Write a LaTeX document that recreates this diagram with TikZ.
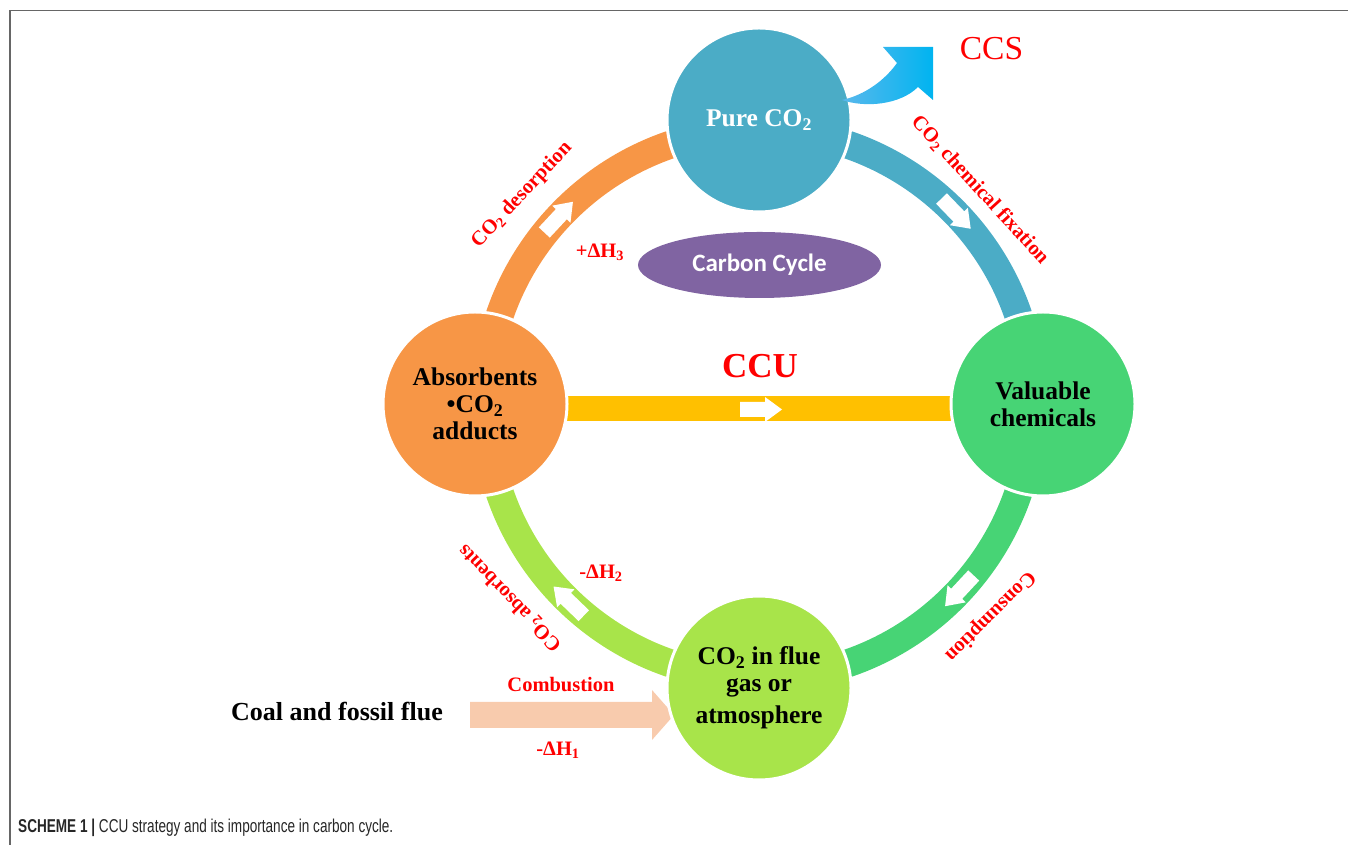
\documentclass[tikz,border=0pt]{standalone}
\usepackage{fontspec}
\setmainfont{Liberation Serif}
\newfontfamily\calibrifont{Carlito}
\newfontfamily\captionfont[FakeStretch=0.73]{Liberation Sans}
\usetikzlibrary{calc,shapes.geometric}
\definecolor{aqua}{HTML}{4BACC6}
\definecolor{absorborange}{HTML}{F79646}
\definecolor{chemgreen}{HTML}{47D475}
\definecolor{fluegreen}{HTML}{A8E44A}
\definecolor{ccugold}{HTML}{FFC000}
\definecolor{cyclepurple}{HTML}{8064A2}
\definecolor{peach}{HTML}{F8CBAD}
\definecolor{framegray}{HTML}{666666}
\definecolor{ccslight}{HTML}{5AB8EC}
\definecolor{ccsblue}{HTML}{0A5AC0}
\definecolor{ccscyan}{HTML}{00B4F0}
\tikzset{
  stage/.style={circle, minimum size=184pt, inner sep=0pt, draw=white, line width=3pt,
    align=center, font=\bfseries\fontsize{25.5}{27}\selectfont},
  tag/.style={text=red, font=\bfseries\fontsize{20.5}{22}\selectfont},
  band/.style={line width=28pt},
}
% white flow arrow sitting on the ring
\newcommand{\flowmark}[1]{%
  \fill[white, shift={($(O)+(#1:274)$)}, rotate=#1-90]
    (-21,-7.5) -- (4,-7.5) -- (4,-12.5) -- (21,0) -- (4,12.5) -- (4,7.5) -- (-21,7.5) -- cycle;}
\begin{document}
\begin{tikzpicture}[x=1pt,y=1pt]
\useasboundingbox (0,0) rectangle (1348,845);
\draw[framegray, line width=1.5pt] (10,0) -- (10,834.5) -- (1348,834.5);
\coordinate (O) at (759,441);
% ring
\draw[band, absorborange] (O) ++(180:274) arc[start angle=180, end angle=90, radius=274];
\draw[band, aqua] (O) ++(90:274) arc[start angle=90, end angle=0, radius=274];
\draw[band, chemgreen] (O) ++(0:274) arc[start angle=0, end angle=-90, radius=274];
\draw[band, fluegreen] (O) ++(-90:274) arc[start angle=-90, end angle=-180, radius=274];
\flowmark{137}
\flowmark{44}
\flowmark{-43}
\flowmark{226}
% stages
\coordinate (absorbpos) at ($(O)+(180:284)$);
\coordinate (chempos) at ($(O)+(0:284)$);
\draw[ccugold, line width=25pt] ([yshift=-4.5]absorbpos) -- ([yshift=-4.5]chempos);
\fill[white] (740,428) -- (765,428) -- (765,423) -- (782,435.5) -- (765,448) -- (765,443) -- (740,443) -- cycle;
\fill[peach] (470,117) -- (652,117) -- (652,105) -- (674,130) -- (652,155) -- (652,143) -- (470,143) -- cycle;
\node[stage, fill=aqua, text=white] (pure) at ($(O)+(90:284)$) {Pure CO\textsubscript{2}};
\node[stage, fill=absorborange] (absorb) at (absorbpos) {Absorbents\\•CO\textsubscript{2}\\adducts};
\node[stage, fill=chemgreen] (valuable) at (chempos) {Valuable\\chemicals};
\node[stage, fill=fluegreen] (flue) at ($(O)+(-90:284)$) {CO\textsubscript{2} in flue\\gas or\\[5pt]atmosphere};
\shade[left color=ccslight, middle color=ccsblue, right color=ccscyan]
  (842,745) .. controls (865,750) and (885,765) .. (897,782) -- (883,798) -- (933,798)
  -- (933,745) -- (918,758) .. controls (900,740) and (865,737) .. (842,745);
\node[ellipse, fill=cyclepurple, minimum width=243pt, minimum height=66pt, inner sep=0pt,
  text=white, font=\calibrifont\bfseries\fontsize{25}{26}\selectfont] (cycle) at (759.5,580) {Carbon Cycle};
% labels
\node[text=red, font=\bfseries\fontsize{35}{36}\selectfont] (ccu) at (760,479) {CCU};
\node[text=red, font=\fontsize{33.5}{35}\selectfont] (ccs) at (991.5,796.5) {CCS};
\node[tag, rotate=47] (desorb) at (522,650) {CO\textsubscript{2} desorption};
\node[tag, rotate=-47.5] (fixation) at (980,655) {CO\textsubscript{2} chemical fixation};
\node[tag, rotate=225] (consume) at (990,229) {Consumption};
\node[tag, rotate=134] (absorbtag) at (510,247) {CO\textsubscript{2} absorbents};
\node[tag] (dh3) at (600,593) {+ΔH\textsubscript{3}};
\node[tag] (dh2) at (601,272) {-ΔH\textsubscript{2}};
\node[tag] (combust) at (561,160) {Combustion};
\node[tag] (dh1) at (558,95) {-ΔH\textsubscript{1}};
\node[font=\bfseries\fontsize{26}{28}\selectfont] (coal) at (337,133) {Coal and fossil flue};
\node[anchor=west, inner sep=0pt, text=black!85, font=\captionfont\fontsize{18.6}{20}\selectfont] (caption) at (18,17)
  {\textbf{SCHEME 1 |} CCU strategy and its importance in carbon cycle.};
\end{tikzpicture}
\end{document}
